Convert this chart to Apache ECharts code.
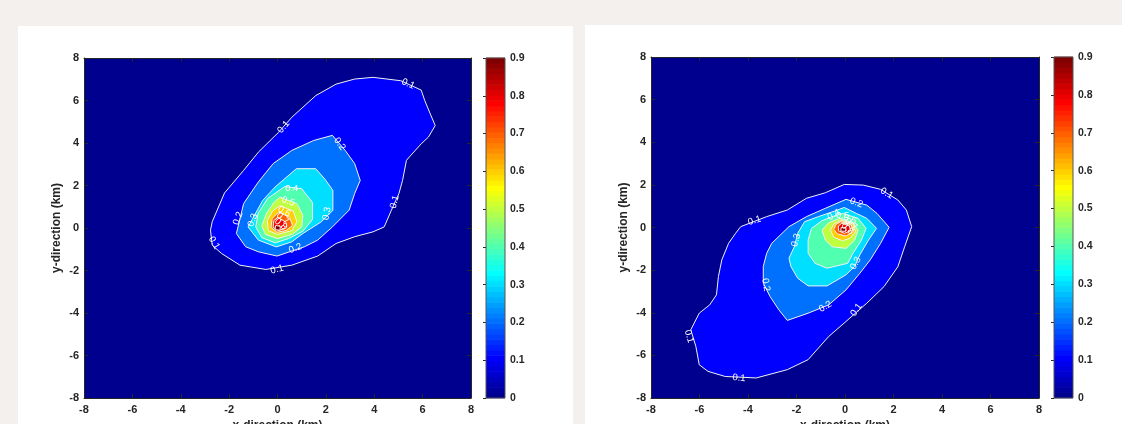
<!DOCTYPE html>
<html>
<head>
<meta charset="utf-8">
<script src="https://cdn.jsdelivr.net/npm/echarts@6/dist/echarts.min.js"></script>
<style>html,body{margin:0;padding:0;background:#f3f0ed;}#c{width:1122px;height:424px;}</style>
</head>
<body>
<div id="c"></div>
<script>
// ---- axis ticks ----
const axisTicks = [-8, -6, -4, -2, 0, 2, 4, 6, 8];
const colorbarTicks = [0, 0.1, 0.2, 0.3, 0.4, 0.5, 0.6, 0.7, 0.8, 0.9];
const contourLevels = [0.1, 0.2, 0.3, 0.4, 0.5, 0.6, 0.7, 0.8, 0.9];

// ---- left panel contour polygons (x km, y km) ----
const left01 = [[-2.77,-0.10],[-2.70,0.29],[-2.19,1.65],[-1.40,2.71],[-0.79,3.57],[0.05,4.51],[0.59,5.21],[1.58,6.23],[2.42,6.77],[3.19,7.01],[3.95,7.09],[5.10,6.93],[5.94,6.49],[6.09,5.99],[6.32,5.36],[6.52,4.82],[6.24,4.28],[5.94,3.96],[5.45,3.34],[5.33,3.18],[5.17,2.24],[5.02,1.62],[4.71,0.84],[4.41,0.05],[3.95,-0.18],[3.19,-0.41],[2.42,-0.73],[1.66,-1.32],[0.59,-1.75],[-0.48,-1.95],[-1.55,-1.75],[-2.31,-1.20],[-2.70,-0.81]];
const left02 = [[2.27,4.36],[2.80,3.65],[3.19,3.03],[3.42,2.24],[3.19,1.62],[2.96,0.84],[2.27,0.05],[1.66,-0.57],[1.12,-0.88],[-0.02,-1.32],[-0.79,-1.12],[-1.32,-0.88],[-1.70,-0.26],[-1.40,1.15],[-0.79,2.17],[-0.18,3.03],[0.59,3.65],[1.50,4.12]];
const left03 = [[1.58,2.79],[1.96,2.30],[2.29,1.77],[2.29,0.83],[1.81,0.29],[1.05,-0.26],[0.59,-0.65],[-0.05,-0.89],[-0.79,-0.57],[-1.22,0.05],[-0.61,1.30],[-0.10,1.93],[0.78,2.79]];
const left04 = [[0.30,1.95],[1.00,1.85],[1.45,1.20],[1.45,0.40],[1.05,-0.15],[0.45,-0.50],[-0.10,-0.70],[-0.65,-0.45],[-0.90,0.05],[-0.80,0.70],[-0.40,1.40]];
const left05 = [[0.10,1.45],[0.80,1.15],[1.05,0.60],[1.00,0.05],[0.60,-0.30],[0.00,-0.50],[-0.50,-0.30],[-0.65,0.10],[-0.45,0.70],[-0.15,1.20]];
const left06 = [[0.10,1.05],[0.65,0.80],[0.80,0.30],[0.60,-0.12],[0.01,-0.30],[-0.38,-0.12],[-0.42,0.35],[-0.20,0.80]];
const left07 = [[0.05,0.75],[0.50,0.50],[0.62,0.12],[0.35,-0.12],[-0.02,-0.20],[-0.27,0.03],[-0.22,0.45]];
const left08 = [[0.02,0.50],[0.35,0.27],[0.38,0.02],[0.05,-0.12],[-0.18,0.03],[-0.15,0.35]];
const left09 = [[-0.08,0.12],[0.12,0.08],[0.10,-0.10],[-0.10,-0.08]];

// ---- right panel contour polygons (x km, y km) ----
const right01 = [[-4.30,0.04],[-3.23,0.51],[-2.38,0.82],[-1.59,1.37],[-0.81,1.63],[-0.03,2.02],[0.75,1.99],[1.47,1.79],[2.18,1.29],[2.53,0.82],[2.75,0.04],[2.46,-0.90],[2.18,-1.84],[1.61,-2.77],[0.90,-3.55],[0.04,-4.41],[-0.67,-5.11],[-1.52,-6.20],[-2.38,-6.67],[-3.66,-7.06],[-4.94,-6.99],[-5.65,-6.75],[-6.01,-6.44],[-6.15,-5.58],[-6.36,-4.80],[-6.01,-4.02],[-5.58,-3.63],[-5.30,-3.16],[-5.22,-2.30],[-5.08,-1.52],[-4.80,-0.74],[-4.51,-0.27]];
const right02 = [[0.04,1.32],[0.90,1.05],[1.32,0.66],[1.82,0.01],[1.47,-0.74],[1.04,-1.52],[0.61,-2.15],[0.04,-2.93],[-0.67,-3.63],[-1.52,-4.02],[-2.38,-4.36],[-2.73,-3.86],[-3.09,-3.24],[-3.37,-2.61],[-3.37,-1.83],[-3.23,-1.21],[-3.02,-0.74],[-2.31,0.04],[-1.59,0.51],[-0.81,0.90]];
const right03 = [[-0.03,0.94],[0.47,0.66],[0.90,0.43],[1.30,-0.04],[0.97,-0.59],[0.61,-1.29],[0.40,-1.83],[0.04,-2.22],[-0.74,-2.74],[-1.52,-2.74],[-1.95,-2.38],[-2.23,-1.83],[-2.31,-1.44],[-2.09,-0.90],[-1.95,-0.27],[-1.67,0.27],[-1.10,0.51],[-0.38,0.79]];
const right04 = [[-0.10,0.66],[0.54,0.43],[0.87,-0.04],[0.68,-0.59],[0.33,-1.21],[0.11,-1.68],[-0.74,-1.91],[-1.24,-1.68],[-1.52,-1.21],[-1.52,-0.59],[-1.38,-0.04],[-0.95,0.32],[-0.53,0.51]];
const right05 = [[-0.21,0.43],[0.33,0.23],[0.54,-0.12],[0.40,-0.59],[0.04,-0.98],[-0.53,-0.90],[-0.81,-0.59],[-0.95,-0.12],[-0.67,0.23]];
const right06 = [[-0.17,0.35],[0.33,0.16],[0.44,-0.20],[0.19,-0.51],[-0.10,-0.62],[-0.46,-0.46],[-0.60,-0.12],[-0.46,0.16]];
const right07 = [[-0.17,0.27],[0.26,0.12],[0.33,-0.20],[0.04,-0.40],[-0.31,-0.30],[-0.46,-0.09],[-0.36,0.16]];
const right08 = [[-0.13,0.20],[0.18,0.07],[0.23,-0.16],[-0.03,-0.27],[-0.27,-0.15],[-0.27,0.07]];
const right09 = [[-0.16,0.00],[0.04,-0.02],[0.02,-0.18],[-0.17,-0.17]];

// ---- contour labels: [x, y, level, angle in degrees] ----
const leftLabels = [[0.25,4.75,'0.1',50],[5.40,6.78,'0.1',-25],[4.84,1.23,'0.1',75],[-0.02,-1.95,'0.1',15],[-2.62,-0.70,'0.1',-60],
  [2.57,3.96,'0.2',-55],[0.74,-0.96,'0.2',20],[-1.63,0.45,'0.2',70],
  [2.04,0.68,'0.3',80],[-1.02,0.37,'0.3',70],
  [0.59,1.85,'0.4',0],[0.44,1.25,'0.5',-20],[0.28,0.78,'0.6',-30],[0.21,0.45,'0.7',-40],[0.13,0.18,'0.8',-40]];
const rightLabels = [[-3.73,0.32,'0.1',15],[1.72,1.60,'0.1',-30],[0.47,-3.86,'0.1',55],[-4.37,-7.06,'0.1',-5],[-6.43,-5.11,'0.1',-75],
  [0.47,1.16,'0.2',-20],[-0.81,-3.71,'0.2',30],[-3.26,-2.69,'0.2',-80],
  [-2.02,-0.59,'0.3',75],[0.44,-1.68,'0.3',60],
  [-0.46,0.59,'0.4',30],[-0.10,0.55,'0.5',0],[0.20,0.38,'0.6',-20],[0.25,0.15,'0.7',-40],[0.10,-0.05,'0.8',-40]];

const leftContours = [left01,left02,left03,left04,left05,left06,left07,left08,left09];
const rightContours = [right01,right02,right03,right04,right05,right06,right07,right08,right09];

// MATLAB jet(64)
function jet64(k){
  const i = k + 1;
  let r, g, b;
  b = i <= 8 ? (i + 8) / 16 : i <= 24 ? 1 : i <= 39 ? (40 - i) / 16 : 0;
  g = i <= 8 ? 0 : i <= 24 ? (i - 8) / 16 : i <= 40 ? 1 : i <= 55 ? (56 - i) / 16 : 0;
  r = i <= 24 ? 0 : i <= 40 ? (i - 24) / 16 : i <= 56 ? 1 : (72 - i) / 16;
  return 'rgb(' + Math.round(r*255) + ',' + Math.round(g*255) + ',' + Math.round(b*255) + ')';
}
const cMin = 0, cMax = 0.9;
function colorFor(v){
  let k = Math.floor((v - cMin) / (cMax - cMin) * 64 + 1e-9);
  k = Math.max(0, Math.min(63, k));
  return jet64(k);
}

const FONT = 'Liberation Sans, Arial, Helvetica, sans-serif';
const TXT = '#262626';
const LINE = '#f2f2f2';

function polySeries(xi, yi, polys){
  return {
    type: 'custom', xAxisIndex: xi, yAxisIndex: yi, silent: true, animation: false, clip: true, z: 3,
    data: polys.map((p, i) => [p[0][0], p[0][1], i]),
    renderItem: function(params, api){
      const idx = api.value(2);
      const pts = polys[idx].map(pt => api.coord(pt));
      return { type: 'polygon', shape: { points: pts },
        style: { fill: colorFor(contourLevels[idx]), stroke: LINE, lineWidth: 1 } };
    }
  };
}
function labelSeries(xi, yi, labels){
  return {
    type: 'custom', xAxisIndex: xi, yAxisIndex: yi, silent: true, animation: false, z: 4,
    data: labels.map((l, i) => [l[0], l[1], i]),
    renderItem: function(params, api){
      const l = labels[api.value(2)];
      const p = api.coord([l[0], l[1]]);
      return { type: 'text', x: p[0], y: p[1], rotation: l[3] * Math.PI / 180,
        style: { text: l[2], fill: '#ffffff', fontSize: 9.5, fontFamily: FONT, align: 'center', verticalAlign: 'middle' } };
    }
  };
}
function colorbarSeries(xi, yi){
  return {
    type: 'custom', xAxisIndex: xi, yAxisIndex: yi, silent: true, animation: false, z: 3,
    data: [[0, 0]],
    renderItem: function(params, api){
      const p0 = api.coord([0, cMin]);
      const p1 = api.coord([1, cMax]);
      const children = [];
      const h = (p0[1] - p1[1]) / 64;
      for (let k = 0; k < 64; k++) {
        children.push({ type: 'rect', shape: { x: p0[0], y: p0[1] - (k + 1) * h - 0.3, width: p1[0] - p0[0], height: h + 0.6 },
          style: { fill: jet64(k) } });
      }
      children.push({ type: 'rect', shape: { x: p0[0], y: p1[1], width: p1[0] - p0[0], height: p0[1] - p1[1] },
        style: { fill: null, stroke: '#555555', lineWidth: 1 } });
      return { type: 'group', children: children };
    }
  };
}

const labelStyle = { fontSize: 11, fontWeight: 'bold', color: TXT, fontFamily: FONT };
function mainX(gi, pos, show, name){
  return { gridIndex: gi, type: 'value', position: pos, min: axisTicks[0], max: axisTicks[axisTicks.length-1], interval: axisTicks[1]-axisTicks[0],
    axisLine: { show: true, onZero: false, lineStyle: { color: TXT, width: 1 } },
    axisTick: { show: true, inside: true, length: 4, lineStyle: { color: TXT } },
    axisLabel: Object.assign({ show: show, margin: 6 }, labelStyle),
    splitLine: { show: false },
    name: name || '', nameLocation: 'middle', nameGap: 20,
    nameTextStyle: { fontSize: 12, fontWeight: 'bold', color: TXT, fontFamily: FONT } };
}
function mainY(gi, pos, show, name){
  return { gridIndex: gi, type: 'value', position: pos, min: axisTicks[0], max: axisTicks[axisTicks.length-1], interval: axisTicks[1]-axisTicks[0],
    axisLine: { show: true, onZero: false, lineStyle: { color: TXT, width: 1 } },
    axisTick: { show: true, inside: true, length: 4, lineStyle: { color: TXT } },
    axisLabel: Object.assign({ show: show, margin: 5 }, labelStyle),
    splitLine: { show: false },
    name: name || '', nameLocation: 'middle', nameGap: 21,
    nameTextStyle: { fontSize: 12, fontWeight: 'bold', color: TXT, fontFamily: FONT } };
}
function cbX(gi){ return { gridIndex: gi, type: 'value', min: 0, max: 1, show: false }; }
function cbY(gi){
  return { gridIndex: gi, type: 'value', position: 'right', min: colorbarTicks[0], max: colorbarTicks[colorbarTicks.length-1], interval: 0.1,
    axisLine: { show: false },
    axisTick: { show: true, inside: true, length: 3, lineStyle: { color: TXT } },
    axisLabel: Object.assign({ show: true, margin: 5, formatter: v => String(Math.round(v*10)/10) }, labelStyle, { fontSize: 10.5 }),
    splitLine: { show: false } };
}

const chart = echarts.init(document.getElementById('c'), null, { renderer: 'canvas' });
chart.setOption({
  backgroundColor: '#f3f0ed',
  animation: false,
  graphic: [
    { type: 'rect', z: -10, shape: { x: 18, y: 26, width: 555, height: 400 }, style: { fill: '#ffffff' } },
    { type: 'rect', z: -10, shape: { x: 585, y: 25, width: 540, height: 400 }, style: { fill: '#ffffff' } }
  ],
  grid: [
    { left: 84, top: 58, width: 387, height: 340, show: true, backgroundColor: colorFor(0), borderWidth: 0, containLabel: false, outerBoundsMode: 'none' },
    { left: 486, top: 58, width: 19, height: 340, show: false, outerBoundsMode: 'none' },
    { left: 651, top: 57, width: 388, height: 341, show: true, backgroundColor: colorFor(0), borderWidth: 0, containLabel: false, outerBoundsMode: 'none' },
    { left: 1054, top: 57, width: 19, height: 341, show: false, outerBoundsMode: 'none' }
  ],
  xAxis: [
    mainX(0, 'bottom', true, 'x-direction (km)'), mainX(0, 'top', false), cbX(1),
    mainX(2, 'bottom', true, 'x-direction (km)'), mainX(2, 'top', false), cbX(3)
  ],
  yAxis: [
    mainY(0, 'left', true, 'y-direction (km)'), mainY(0, 'right', false), cbY(1),
    mainY(2, 'left', true, 'y-direction (km)'), mainY(2, 'right', false), cbY(3)
  ],
  series: [
    polySeries(0, 0, leftContours),
    labelSeries(0, 0, leftLabels),
    colorbarSeries(2, 2),
    polySeries(3, 3, rightContours),
    labelSeries(3, 3, rightLabels),
    colorbarSeries(5, 5)
  ]
});
</script>
</body>
</html>
